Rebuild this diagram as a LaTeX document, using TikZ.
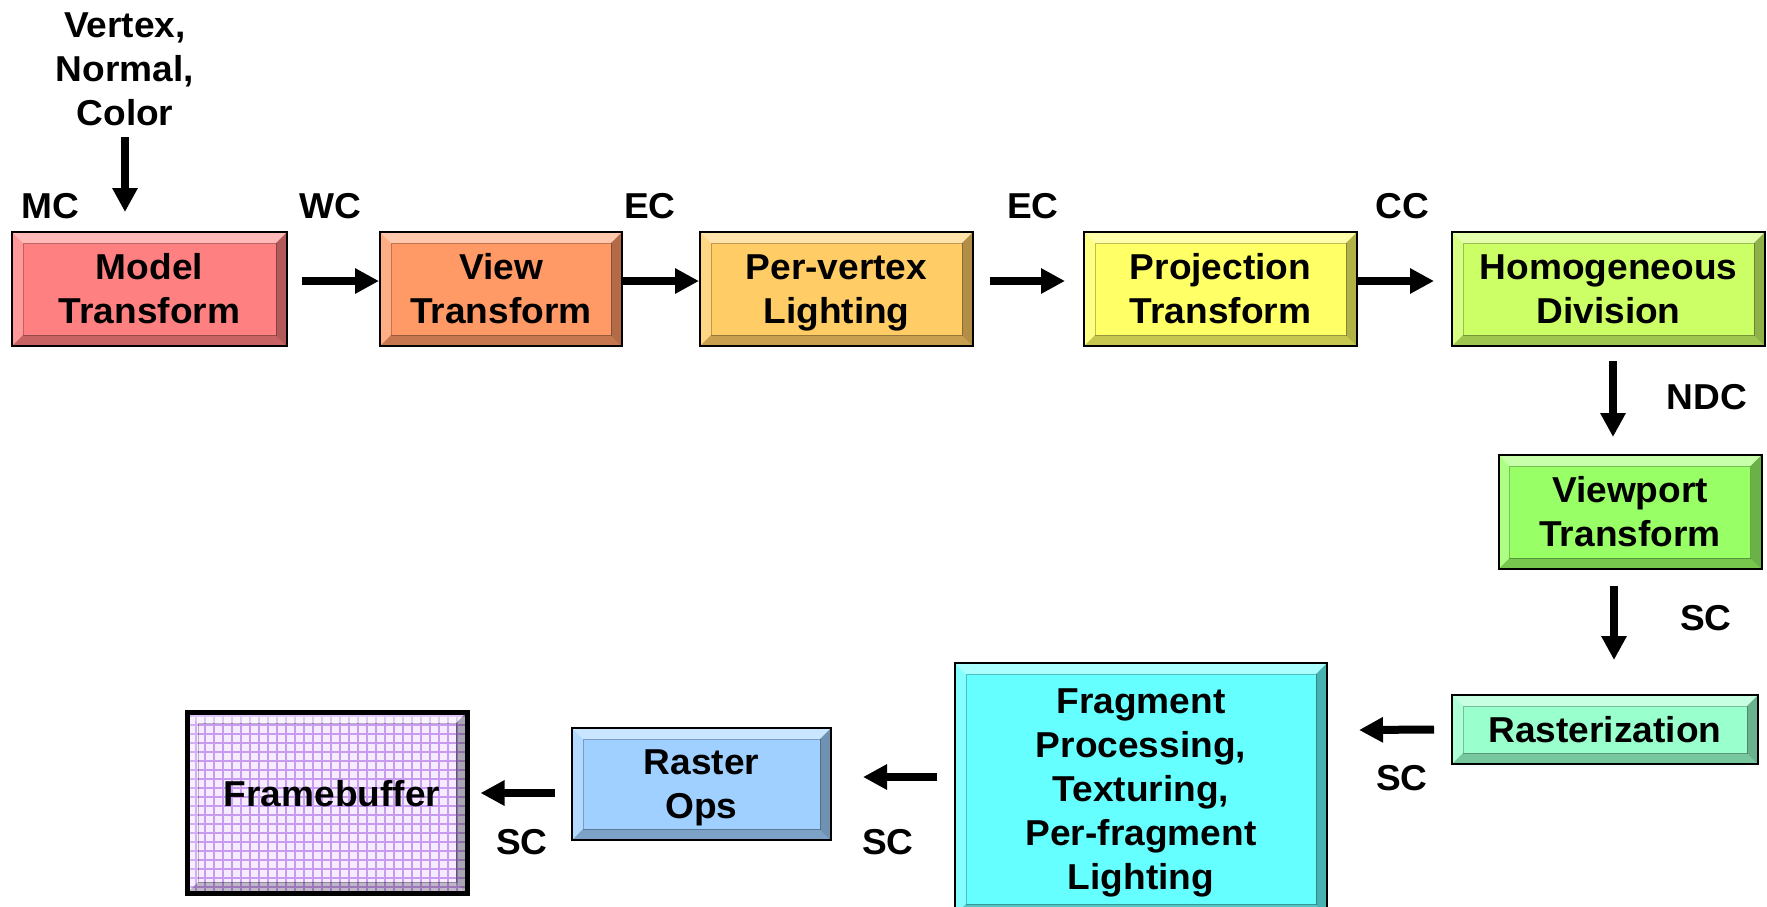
\documentclass[tikz,border=0pt]{standalone}
\usepackage{fontspec}
\setmainfont{Liberation Sans}[FakeStretch=1.03]
\usetikzlibrary{arrows.meta}
\definecolor{cModel}{RGB}{255,128,128}
\definecolor{cView}{RGB}{255,153,102}
\definecolor{cLight}{RGB}{255,204,102}
\definecolor{cProj}{RGB}{255,255,102}
\definecolor{cHomog}{RGB}{204,255,102}
\definecolor{cViewp}{RGB}{153,255,102}
\definecolor{cRaster}{RGB}{153,255,204}
\definecolor{cFrag}{RGB}{102,255,255}
\definecolor{cROps}{RGB}{160,208,255}
\definecolor{cFbBg}{RGB}{246,236,255}
\definecolor{cFbLine}{RGB}{200,155,240}
\newcommand\lstrut{\rule[-10pt]{0pt}{44pt}}
\newcommand\bevelfill{%
  \fill[white,opacity=0.45] (path picture bounding box.north west) -- (path picture bounding box.north east) -- ([xshift=-11pt,yshift=-11pt]path picture bounding box.north east) -- ([xshift=11pt,yshift=-11pt]path picture bounding box.north west) -- cycle;
  \fill[white,opacity=0.2] (path picture bounding box.north west) -- (path picture bounding box.south west) -- ([xshift=11pt,yshift=11pt]path picture bounding box.south west) -- ([xshift=11pt,yshift=-11pt]path picture bounding box.north west) -- cycle;
  \fill[black,opacity=0.22] (path picture bounding box.south west) -- (path picture bounding box.south east) -- ([xshift=-11pt,yshift=11pt]path picture bounding box.south east) -- ([xshift=11pt,yshift=11pt]path picture bounding box.south west) -- cycle;
  \fill[black,opacity=0.3] (path picture bounding box.north east) -- (path picture bounding box.south east) -- ([xshift=-11pt,yshift=11pt]path picture bounding box.south east) -- ([xshift=-11pt,yshift=-11pt]path picture bounding box.north east) -- cycle;
  \draw[black,opacity=0.25,line width=1pt] ([xshift=11pt,yshift=-11pt]path picture bounding box.north west) rectangle ([xshift=-11pt,yshift=11pt]path picture bounding box.south east);
}
\begin{document}
\begin{tikzpicture}[x=1pt,y=-1pt,
  txt/.style={font=\fontsize{36}{44}\selectfont\bfseries, text=black, inner sep=0pt},
  bx/.style={txt, align=center, rectangle, draw=black, line width=2pt, fill=#1,
     path picture={\bevelfill}},
  fbbox/.style={txt, align=center, rectangle, draw=black, line width=5pt, fill=cFbBg,
     path picture={\draw[cFbLine, line width=1.6pt, step=9pt] (path picture bounding box.south west) grid (path picture bounding box.north east);\bevelfill}},
  arr/.style={line width=8pt, -{Triangle[length=24pt,width=24pt]}}
]
\useasboundingbox (0,0) rectangle (1767,906);

% boxes
\node[bx=cModel, minimum width=275pt, minimum height=114pt] (model) at (149.5,289) {\lstrut Model\\\lstrut Transform};
\node[bx=cView, minimum width=242pt, minimum height=114pt] (view) at (501,289) {\lstrut View\\\lstrut Transform};
\node[bx=cLight, minimum width=273pt, minimum height=114pt] (light) at (836.5,289) {\lstrut Per-vertex\\\lstrut Lighting};
\node[bx=cProj, minimum width=273pt, minimum height=114pt] (proj) at (1220.5,289) {\lstrut Projection\\\lstrut Transform};
\node[bx=cHomog, minimum width=313pt, minimum height=114pt] (homog) at (1608.5,289) {\lstrut Homogeneous\\\lstrut Division};
\node[bx=cViewp, minimum width=263pt, minimum height=114pt] (viewp) at (1630,512) {\lstrut Viewport\\\lstrut Transform};
\node[bx=cRaster, minimum width=306pt, minimum height=69pt] (raster) at (1605,729.5) {Rasterization};
\node[bx=cFrag, minimum width=372pt, minimum height=252pt] (frag) at (1141,789) {\lstrut Fragment\\Processing,\\Texturing,\\Per-fragment\\\lstrut Lighting};
\node[bx=cROps, minimum width=259pt, minimum height=112pt] (rops) at (701.5,784) {\lstrut Raster\\\lstrut Ops};
\node[fbbox, minimum width=280pt, minimum height=181pt, text depth=19pt] (fb) at (327,802.5) {\hspace*{10pt}Framebuffer};

% labels
\node[txt, align=center, anchor=north] (vtx) at (125,13) {Vertex,\\Normal,\\Color};
\node[txt] (lMC) at (50,206) {MC};
\node[txt] (lWC) at (330,206) {WC};
\node[txt] (lEC1) at (650,206) {EC};
\node[txt] (lEC2) at (1033,206) {EC};
\node[txt] (lCC) at (1402,206) {CC};
\node[txt] (lNDC) at (1707,397) {NDC};
\node[txt] (lSC1) at (1706,618) {SC};
\node[txt] (lSC2) at (1402,778) {SC};
\node[txt] (lSC3) at (888,842) {SC};
\node[txt] (lSC4) at (522,842) {SC};

% connectors
\coordinate (vin) at (125,137);
\draw[arr] (vin) -- ([xshift=-24.5pt,yshift=19pt]model.north);
\draw[arr] ([xshift=14pt,yshift=8pt]model.east) -- ([yshift=8pt]view.west);
\draw[arr] ([yshift=8pt]view.east) -- ([yshift=8pt]light.west);
\draw[arr] ([xshift=16pt,yshift=8pt]light.east) -- ([xshift=-18pt,yshift=8pt]proj.west);
\draw[arr] ([yshift=8pt]proj.east) -- ([xshift=-17pt,yshift=8pt]homog.west);
\draw[arr] ([xshift=4.5pt,yshift=-14pt]homog.south) -- ([xshift=-17pt,yshift=17pt]viewp.north);
\draw[arr] ([xshift=-16pt,yshift=-16pt]viewp.south) -- ([xshift=9pt,yshift=34pt]raster.north);
\draw[arr] ([xshift=-17pt]raster.west) -- ([xshift=31pt,yshift=59pt]frag.east);
\draw[arr] ([xshift=-17pt,yshift=12pt]frag.west) -- ([xshift=31pt,yshift=7pt]rops.east);
\draw[arr] ([xshift=-16pt,yshift=-9pt]rops.west) -- ([xshift=11pt,yshift=9.5pt]fb.east);
\end{tikzpicture}
\end{document}
